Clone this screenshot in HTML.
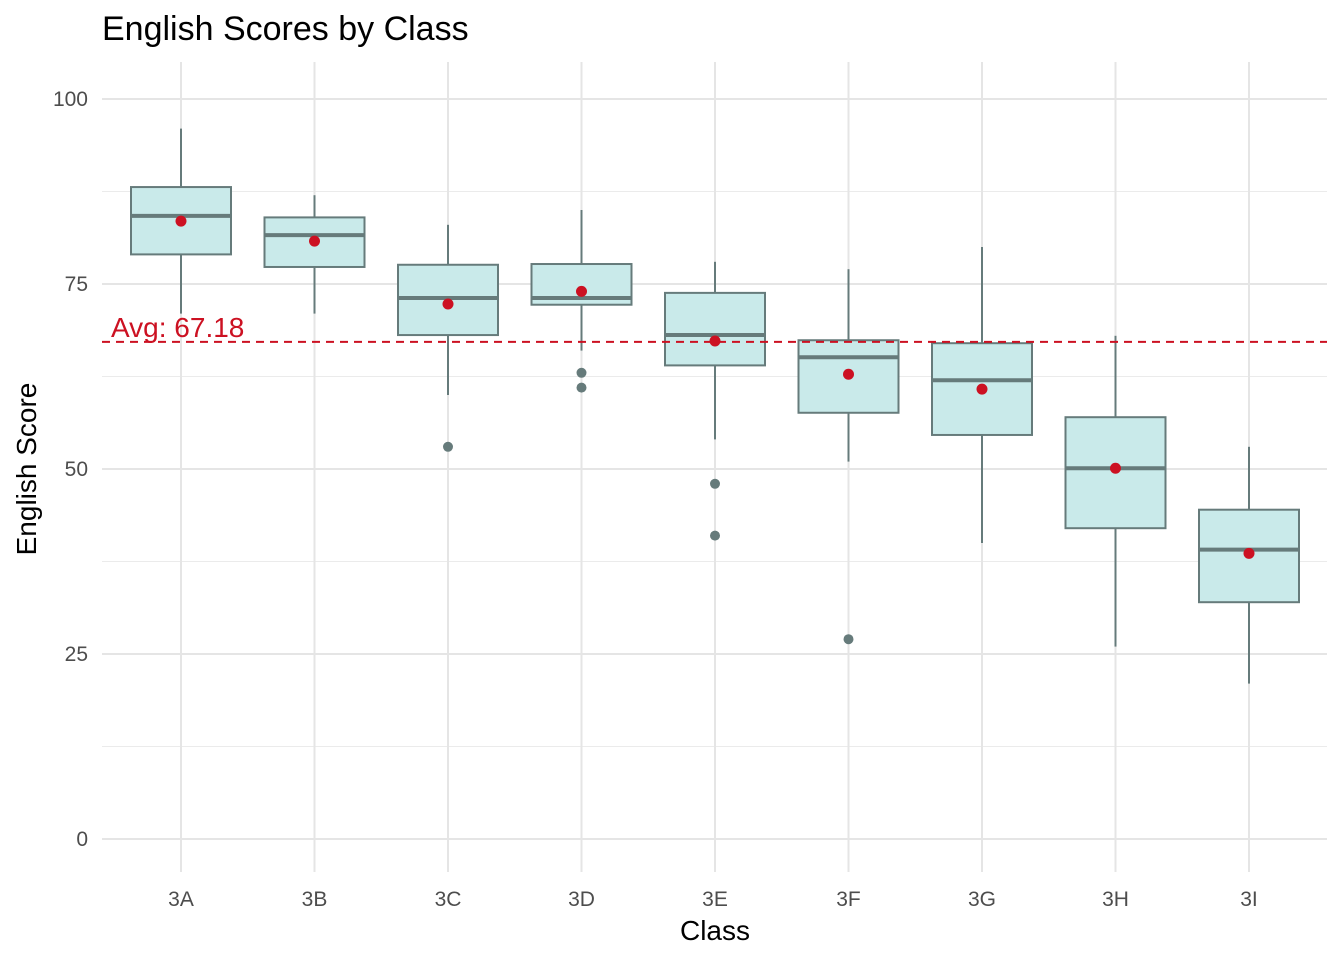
<!DOCTYPE html>
<html><head><meta charset="utf-8"><style>
body{margin:0;background:#fff;font-family:"Liberation Sans",Arial,sans-serif}
svg text{font-family:"Liberation Sans",Arial,sans-serif}
</style></head><body>
<svg id="chart" width="1344" height="960" xmlns="http://www.w3.org/2000/svg">
<text x="102" y="40" font-size="34" fill="#000">English Scores by Class</text>
<text transform="translate(36,469) rotate(-90)" text-anchor="middle" font-size="28" fill="#000">English Score</text>
<text x="715" y="940" text-anchor="middle" font-size="28" fill="#000">Class</text>
<g id="grid"></g><g id="boxes"></g><g id="overlay"></g>
</svg>
<script>
const categories=["3A","3B","3C","3D","3E","3F","3G","3H","3I"];
const whiskerLow=[71,71,60,66,54,51,40,26,21];
const q1=[79,77.3,68.1,72.2,64,57.6,54.6,42,32];
const medians=[84.2,81.6,73.1,73.1,68.1,65.1,62,50.1,39.1];
const q3=[88.1,84,77.6,77.7,73.8,67.4,67,57,44.5];
const whiskerHigh=[96,87,83,85,78,77,80,68,53];
const means=[83.5,80.8,72.3,74,67.3,62.8,60.8,50.1,38.6];
const outlierClass=["3C","3D","3D","3E","3E","3F"];
const outlierValues=[53,63,61,48,41,27];
const yTicks=[0,25,50,75,100];
const overallAvg=67.18;
const NS="http://www.w3.org/2000/svg";
const y=v=>839-v*7.4;
const x=i=>181+i*133.5;
function mk(tag,attrs,parent){const e=document.createElementNS(NS,tag);for(const k in attrs)e.setAttribute(k,attrs[k]);parent.appendChild(e);return e;}
const grid=document.getElementById('grid'),boxes=document.getElementById('boxes'),ov=document.getElementById('overlay');
for(let i=0;i<yTicks.length-1;i++){const m=(yTicks[i]+yTicks[i+1])/2;const l=mk('line',{x1:102,x2:1327,y1:y(m),y2:y(m),stroke:'#ebebeb','stroke-width':1},grid);

}
yTicks.forEach(t=>{const l=mk('line',{x1:102,x2:1327,y1:y(t),y2:y(t),stroke:'#e5e5e5','stroke-width':2},grid);


const tx=mk('text',{x:88,y:y(t)+7,'text-anchor':'end','font-size':'21',fill:'#4d4d4d'},grid);tx.textContent=t;

});
categories.forEach((c,i)=>{const l=mk('line',{x1:x(i),x2:x(i),y1:62,y2:872,stroke:'#e5e5e5','stroke-width':2},grid);


const tx=mk('text',{x:x(i),y:906,'text-anchor':'middle','font-size':'21',fill:'#4d4d4d'},grid);tx.textContent=c;

});
const col='#667b7b';
categories.forEach((c,i)=>{const g=mk('g',{},boxes);


mk('line',{x1:x(i),x2:x(i),y1:y(whiskerHigh[i]),y2:y(q3[i]),stroke:col,'stroke-width':2},g);
mk('line',{x1:x(i),x2:x(i),y1:y(q1[i]),y2:y(whiskerLow[i]),stroke:col,'stroke-width':2},g);
mk('rect',{x:x(i)-50,y:y(q3[i]),width:100,height:y(q1[i])-y(q3[i]),fill:'#c9eaea',stroke:col,'stroke-width':2},g);
mk('line',{x1:x(i)-50,x2:x(i)+50,y1:y(medians[i]),y2:y(medians[i]),stroke:col,'stroke-width':4},g);});
outlierClass.forEach((c,k)=>{const i=categories.indexOf(c);const p=mk('circle',{cx:x(i),cy:y(outlierValues[k]),r:5,fill:col},boxes);

});
const al=mk('line',{x1:102,x2:1327,y1:y(overallAvg),y2:y(overallAvg),stroke:'#cc1122','stroke-width':2,'stroke-dasharray':'8,6'},ov);


const at=mk('text',{x:111,y:y(overallAvg)-5,'font-size':'28',fill:'#cc1122'},ov);at.textContent='Avg: '+overallAvg.toFixed(2);


means.forEach((m,i)=>{const p=mk('circle',{cx:x(i),cy:y(m),r:5.5,fill:'#cc1122'},ov);

});
</script>
</body></html>
